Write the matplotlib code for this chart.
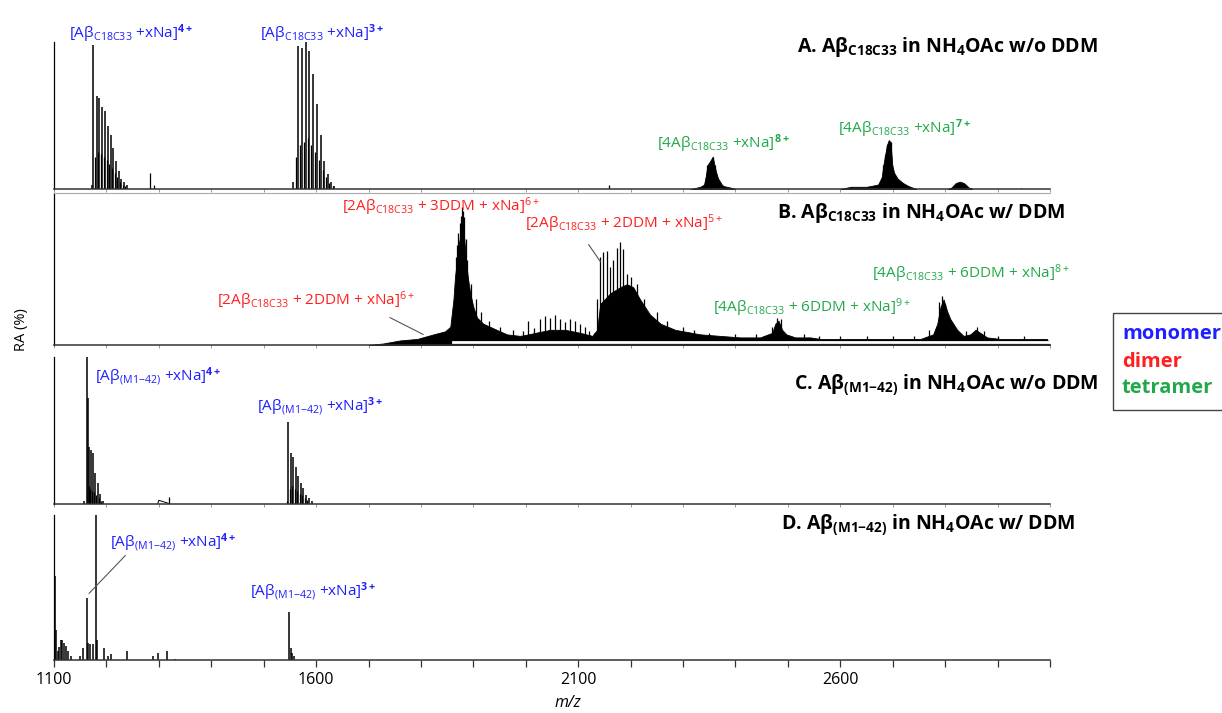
import matplotlib
matplotlib.use('Agg')
import matplotlib.pyplot as plt
from matplotlib.patches import Rectangle
from matplotlib.ticker import MultipleLocator, FuncFormatter

plt.rcParams['font.family'] = ['Open Sans', 'DejaVu Sans']
plt.rcParams['mathtext.fontset'] = 'custom'
plt.rcParams['mathtext.rm'] = 'Open Sans'
plt.rcParams['mathtext.it'] = 'Open Sans:italic'
plt.rcParams['mathtext.bf'] = 'Open Sans:bold'

BLUE = '#1f1fff'
RED = '#ff1f1f'
GREEN = '#22a84a'

# ---------------- A: Abeta C18C33, no DDM
a4_mz = [1172.5, 1175.0, 1181.5, 1186.4, 1192.2, 1197.3, 1203.1, 1208.2, 1213.2, 1218.3, 1223.5, 1228.4, 1233.6, 1238.7]
a4_int = [3, 98, 63, 62, 56, 53, 43, 37, 28, 19, 12, 7, 5, 3]
a4_sub_mz = [1178.2, 1184.0, 1189.3, 1194.8, 1200.2, 1205.6, 1210.7, 1215.8, 1220.9, 1226.0, 1231.0, 1236.0]
a4_sub = [22, 25, 24, 22, 20, 17, 14, 11, 8, 5, 3, 2]
a3_mz = [1556.1, 1565.1, 1572.7, 1580.3, 1587.2, 1594.3, 1601.9, 1609.0, 1615.8, 1622.3, 1628.6, 1634.9]
a3_int = [5, 97, 96, 100, 94, 78, 58, 37, 19, 10, 5, 2]
a3_sub_mz = [1561.3, 1568.9, 1576.5, 1583.8, 1590.8, 1598.1, 1605.5, 1612.4, 1619.0, 1625.5, 1631.8]
a3_sub = [22, 30, 32, 35, 30, 25, 20, 13, 8, 4, 2]
a_spk_mz = [1282.6, 1291.4, 2158.2, 2945.4]
a_spk = [11, 3, 3, 1]
a8_mz = [2315, 2333, 2340, 2343, 2346.5, 2350, 2353.4, 2356.6, 2360, 2363.3, 2367, 2374, 2377, 2390, 2400]
a8_int = [0, 1.5, 3, 8, 16, 18, 20, 22, 16, 11, 7, 3, 2, 1, 0]
a7_mz = [2600, 2620, 2650, 2672, 2679, 2682, 2685.4, 2688.9, 2692.3, 2695.8, 2699.2, 2702.6, 2709.5, 2719.8, 2730, 2745]
a7_int = [0, 1.5, 1.5, 3, 8, 16, 23, 30, 33, 32, 16, 11, 7, 4, 2, 0]
a_hump_mz = [2805, 2812, 2820, 2828, 2836, 2845, 2852]
a_hump = [0, 1, 4, 5, 4, 1, 0]

# ---------------- B: Abeta C18C33 with DDM
b_env_mz = [1700, 1728, 1760, 1793, 1824, 1846, 1856, 1862, 1865, 1868.5, 1871.5, 1875, 1878, 1881, 1884,
            1887.5, 1890.5, 1894, 1900, 1907, 1919, 1938, 1964, 1989, 2005, 2018, 2047, 2075, 2104, 2127,
            2136, 2142, 2161, 2180, 2193, 2205, 2218, 2237, 2257, 2285, 2333, 2371, 2409, 2447, 2470,
            2476, 2482, 2489, 2497, 2514, 2543, 2562, 2619, 2676, 2715, 2753, 2777, 2785, 2791, 2797,
            2804, 2810, 2823, 2835, 2848, 2858, 2867, 2880, 2905, 2944, 2994, 3000]
b_env = [0, 1, 3, 4, 7, 9, 12, 30, 45, 55, 65, 72, 78, 76, 64,
         50, 42, 34, 25, 18, 14, 11, 7, 6, 7, 8, 10, 10, 8, 6,
         10, 27, 34, 38, 40, 38, 30, 20, 14, 10, 7, 6, 5, 5, 8,
         14, 16, 10, 7, 5, 5, 4, 4, 4, 4, 4, 7, 14, 25, 30,
         22, 17, 10, 6, 7, 10, 8, 5, 4, 4, 4, 0]
b_stk_mz = [1866, 1869, 1871.5, 1874, 1876.5, 1878, 1880, 1882, 1885, 1888,
            2005, 2028, 2037, 2047, 2056, 2066, 2075, 2085, 2094, 2104, 2113,
            2136, 2142, 2148, 2155, 2161, 2167, 2174, 2180, 2185, 2193, 2206, 2218, 2231, 2244]
b_stk = [58, 66, 74, 80, 85, 91, 88, 84, 70, 56,
         16, 17, 19, 18, 20, 17, 15, 17, 16, 14, 12,
         30, 58, 61, 62, 51, 56, 64, 68, 63, 47, 36, 25, 18, 14]
b_spk_mz = [1895, 1905, 1915, 1930, 1950, 1975, 1995, 2015, 2120, 2130,
            2200, 2212, 2225, 2250, 2270, 2300, 2320, 2350, 2400, 2440,
            2470, 2480, 2486, 2530, 2560, 2600, 2650, 2700, 2740, 2770,
            2788, 2794, 2800, 2815, 2840, 2860, 2875, 2900, 2950]
b_spk = [40, 30, 22, 16, 12, 10, 9, 11, 9, 8,
         45, 40, 30, 22, 16, 12, 10, 8, 7, 7,
         12, 18, 17, 7, 6, 6, 6, 6, 6, 10,
         28, 32, 27, 14, 9, 12, 9, 6, 6]
b_gap_mz = [1862, 3000]
b_gap = [1.8, 1.8]

# ---------------- C: Abeta(M1-42), no DDM
c4_mz = [1157.3, 1162.4, 1164.3, 1167.4, 1170.6, 1175.0, 1178.8, 1183.4, 1187.8, 1192.9]
c4_int = [2, 100, 72, 39, 37, 35, 21, 14, 7, 2]
c4_sub_mz = [1166.0, 1169.0, 1172.8, 1177.0, 1181.0, 1185.6, 1190.0]
c4_sub = [12, 10, 9, 8, 6, 4, 2]
c3_mz = [1547.1, 1551.7, 1556.7, 1561.8, 1566.2, 1571.4, 1575.8, 1580.9, 1586.0, 1591.8]
c3_int = [56, 35, 32, 25, 19, 14, 11, 6, 4, 2]
c3_sub_mz = [1544.5, 1549.4, 1554.2, 1559.2, 1564.0, 1568.8, 1573.6, 1578.3, 1583.4]
c3_sub = [2, 10, 12, 10, 9, 7, 6, 4, 3]
c_art_mz = [1298, 1300, 1318]
c_art = [0.5, 2.5, 0.5]
c_spk_mz = [1320]
c_spk = [5]

# ---------------- D: Abeta(M1-42) with DDM
d_mz = [1101.9, 1103.8, 1107.6, 1109.5, 1112.8, 1115.8, 1119.1, 1122.9, 1127.3, 1131.9,
        1149.6, 1155.9, 1162.4, 1165.4, 1168.7, 1173.9, 1179.6, 1181.5, 1196.0, 1202.5,
        1208.2, 1238.7, 1289.5, 1298.5, 1316.2, 1330.9, 1547.8, 1551.7, 1554.8, 1558.0]
d_int = [58, 21, 6, 9, 14, 14, 12, 10, 6, 3,
         3, 8, 43, 12, 11, 11, 100, 14, 8, 3,
         4, 6, 3, 5, 6, 1, 33, 8, 5, 3]

tick_labels = [1100, 1600, 2100, 2600]

W, H = 1222, 713
fig = plt.figure(figsize=(W / 100, H / 100), dpi=100)


def panel(top, bottom, labels=False):
    ax = fig.add_axes([54 / W, 1 - bottom / H, (1050 - 54) / W, (bottom - top) / H])
    ax.set_xlim(1100, 3000)
    ax.set_ylim(0, 100)
    ax.spines['top'].set_visible(False)
    ax.spines['right'].set_visible(False)
    ax.spines['left'].set_linewidth(0.9)
    ax.spines['bottom'].set_linewidth(1.1)
    ax.spines['bottom'].set_color('#333333')
    ax.set_yticks([])
    ax.xaxis.set_major_locator(MultipleLocator(100))
    if labels:
        ax.xaxis.set_major_formatter(FuncFormatter(lambda v, p: '%d' % v if int(round(v)) in tick_labels else ''))
        ax.tick_params(axis='x', length=5, width=0.9, labelsize=11.5, pad=4, color='#333333')
    else:
        ax.tick_params(axis='x', length=2, width=0.6, labelbottom=False, color='#888888')
    return ax


def sticks(ax, mz, inten, lw=0.9):
    ax.vlines(mz, 0, inten, color='black', lw=lw)


def hump(ax, mz, inten):
    ax.fill_between(mz, 0, inten, color='black', lw=0.6)


lab = dict(ha='left', va='baseline', fontsize=11, clip_on=False)
ttl = dict(ha='right', va='baseline', fontsize=14, fontweight='bold', clip_on=False)

# ---- panel A
axA = panel(42, 189)
sticks(axA, a4_sub_mz, a4_sub)
sticks(axA, a4_mz, a4_int, 1.1)
sticks(axA, a3_sub_mz, a3_sub)
sticks(axA, a3_mz, a3_int, 1.1)
sticks(axA, a_spk_mz, a_spk)
hump(axA, a8_mz, a8_int)
sticks(axA, a8_mz, a8_int)
hump(axA, a7_mz, a7_int)
sticks(axA, a7_mz, a7_int)
hump(axA, a_hump_mz, a_hump)
axA.text(1128, 103, r'[Aβ$_{\mathrm{C18C33}}$ +xNa]$^{\mathbf{4+}}$', color=BLUE, **lab)
axA.text(1493, 103, r'[Aβ$_{\mathrm{C18C33}}$ +xNa]$^{\mathbf{3+}}$', color=BLUE, **lab)
axA.text(2251, 28, r'[4Aβ$_{\mathrm{C18C33}}$ +xNa]$^{\mathbf{8+}}$', color=GREEN, **lab)
axA.text(2596, 38, r'[4Aβ$_{\mathrm{C18C33}}$ +xNa]$^{\mathbf{7+}}$', color=GREEN, **lab)
axA.text(3092, 93, r'A. Aβ$_{\mathbf{C18C33}}$ in NH$_{\mathbf{4}}$OAc w/o DDM', **ttl)

# ---- panel B
axB = panel(193, 345)
axB.spines['top'].set_visible(True)
axB.spines['top'].set_color('#aaaaaa')
axB.spines['top'].set_linewidth(0.8)
hump(axB, b_env_mz, b_env)
sticks(axB, b_stk_mz, b_stk)
sticks(axB, b_spk_mz, b_spk)
axB.plot(b_gap_mz, b_gap, color='white', lw=2.0)
axB.text(1649, 88, r'[2Aβ$_{\mathrm{C18C33}}$ + 3DDM + xNa]$^{6+}$', color=RED, **lab)
axB.text(1999, 77, r'[2Aβ$_{\mathrm{C18C33}}$ + 2DDM + xNa]$^{5+}$', color=RED, **lab)
axB.text(1410, 26, r'[2Aβ$_{\mathrm{C18C33}}$ + 2DDM + xNa]$^{6+}$', color=RED, **lab)
axB.text(2358, 22, r'[4Aβ$_{\mathrm{C18C33}}$ + 6DDM + xNa]$^{9+}$', color=GREEN, **lab)
axB.text(2660, 44, r'[4Aβ$_{\mathrm{C18C33}}$ + 6DDM + xNa]$^{8+}$', color=GREEN, **lab)
axB.plot([1741, 1804], [18, 7], color='#555555', lw=0.8)
axB.plot([2120, 2142], [66, 55], color='#555555', lw=0.8)
axB.text(3029, 83.5, r'B. Aβ$_{\mathbf{C18C33}}$ in NH$_{\mathbf{4}}$OAc w/ DDM', **ttl)

# ---- panel C
axC = panel(357, 504)
sticks(axC, c4_sub_mz, c4_sub)
sticks(axC, c4_mz, c4_int, 1.1)
sticks(axC, c3_sub_mz, c3_sub)
sticks(axC, c3_mz, c3_int, 1.1)
sticks(axC, c_spk_mz, c_spk)
axC.plot(c_art_mz, c_art, color='black', lw=0.7)
axC.text(1178, 84, r'[Aβ$_{\mathrm{(M1{-}42)}}$ +xNa]$^{\mathbf{4+}}$', color=BLUE, **lab)
axC.text(1487, 63, r'[Aβ$_{\mathrm{(M1{-}42)}}$ +xNa]$^{\mathbf{3+}}$', color=BLUE, **lab)
axC.text(3092, 77.5, r'C. Aβ$_{\mathbf{(M1{-}42)}}$ in NH$_{\mathbf{4}}$OAc w/o DDM', **ttl)

# ---- panel D
axD = panel(515, 660, labels=True)
sticks(axD, d_mz, d_int, 1.1)
axD.text(1207, 78, r'[Aβ$_{\mathrm{(M1{-}42)}}$ +xNa]$^{\mathbf{4+}}$', color=BLUE, **lab)
axD.text(1473, 44, r'[Aβ$_{\mathrm{(M1{-}42)}}$ +xNa]$^{\mathbf{3+}}$', color=BLUE, **lab)
axD.plot([1236, 1167], [72, 46], color='#555555', lw=0.8)
axD.text(3048, 89.5, r'D. Aβ$_{\mathbf{(M1{-}42)}}$ in NH$_{\mathbf{4}}$OAc w/ DDM', **ttl)

# ---- axis labels and legend box
fig.text(22 / W, 1 - 330 / H, 'RA (%)', rotation=90, ha='center', va='center', fontsize=10.5)
fig.text(568 / W, 1 - 703 / H, 'm/z', style='italic', ha='center', va='center', fontsize=11.5)
fig.add_artist(Rectangle((1113 / W, 1 - 410 / H), 0.2, (410 - 313) / H, transform=fig.transFigure,
                         fill=False, ec='#444444', lw=1))
for txt, col, y in [('monomer', BLUE, 334), ('dimer', RED, 362), ('tetramer', GREEN, 388)]:
    fig.text(1122 / W, 1 - y / H, txt, color=col, fontweight='bold', fontsize=14.5, ha='left', va='center')

fig.savefig('out.png', dpi=100)
